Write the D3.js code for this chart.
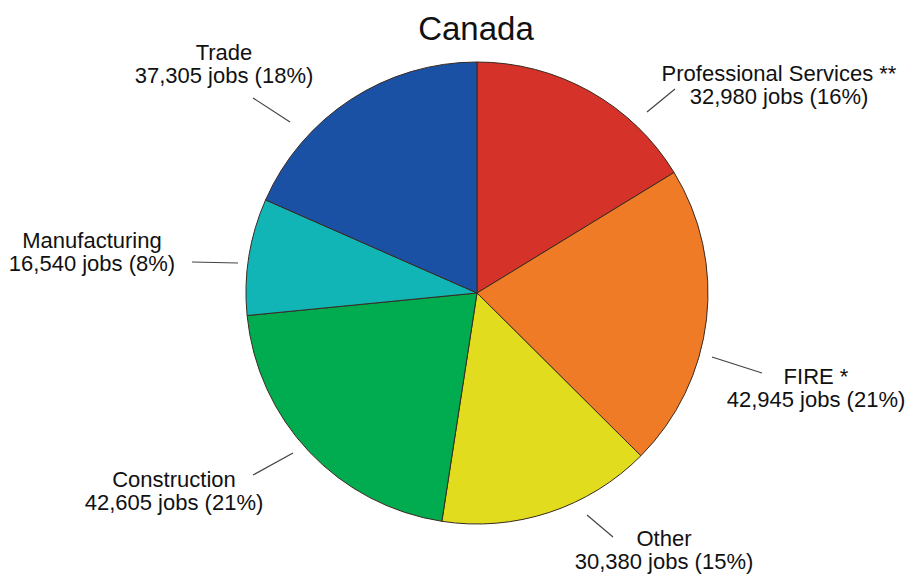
<!DOCTYPE html>
<html>
<head>
<meta charset="utf-8">
<script src="https://cdn.jsdelivr.net/npm/d3@7"></script>
<style>
  body { margin: 0; background: #fff; }
  svg { display: block; font-family: "Liberation Sans", Arial, sans-serif; }
</style>
</head>
<body>
<script>
// data
const categories = ['Professional Services **', 'FIRE *', 'Other', 'Construction', 'Manufacturing', 'Trade'];
const jobs = [32980, 42945, 30380, 42605, 16540, 37305];
const percents = ['16%', '21%', '15%', '21%', '8%', '18%'];
const colors = ['#d5322a', '#f07b27', '#e1dd1e', '#00ac4f', '#12b5b6', '#1b51a4'];

// label layout: text centre + leader line ends
const labelPos = [
    {x: 779, y: 81, l: [647, 112, 675, 89]},
    {x: 816, y: 384, l: [712, 357, 762, 373]},
    {x: 664, y: 546, l: [587, 515, 613, 537]},
    {x: 174, y: 487, l: [253, 475, 293, 453]},
    {x: 92, y: 248, l: [192, 262, 238, 263]},
    {x: 224, y: 60, l: [253, 98, 290, 122]}
];

let width = 910,
    height = 574;

let svg = d3.select('body')
    .append('svg')
    .attr('width', width)
    .attr('height', height);

svg.append('text')
    .attr('x', 476)
    .attr('y', 40)
    .attr('text-anchor', 'middle')
    .style('font-size', '33px')
    .attr('fill', '#111')
    .text('Canada');

let pie = d3.pie().sort(null).value(d => d);
let arc = d3.arc().innerRadius(0).outerRadius(231);

let g = svg.append('g')
    .attr('transform', 'translate(477, 293)');

g.selectAll('path')
    .data(pie(jobs))
    .enter()
    .append('path')
    .attr('d', arc)
    .attr('fill', (d, i) => colors[i])
    .attr('stroke', '#3a2a20')
    .attr('stroke-width', 1);

// leader lines
svg.selectAll('line.leader')
    .data(labelPos)
    .enter()
    .append('line')
    .attr('class', 'leader')
    .attr('x1', d => d.l[0])
    .attr('y1', d => d.l[1])
    .attr('x2', d => d.l[2])
    .attr('y2', d => d.l[3])
    .attr('stroke', '#444')
    .attr('stroke-width', 1.2);

let fmt = d3.format(',');

let labels = svg.selectAll('text.lbl')
    .data(categories)
    .enter()
    .append('text')
    .attr('class', 'lbl')
    .attr('text-anchor', 'middle')
    .attr('fill', '#111')
    .style('font-size', '22px');

labels.append('tspan')
    .attr('x', (d, i) => labelPos[i].x)
    .attr('y', (d, i) => labelPos[i].y)
    .text(d => d);

labels.append('tspan')
    .attr('x', (d, i) => labelPos[i].x)
    .attr('y', (d, i) => labelPos[i].y + 23)
    .text((d, i) => fmt(jobs[i]) + ' jobs (' + percents[i] + ')');
</script>
</body>
</html>
